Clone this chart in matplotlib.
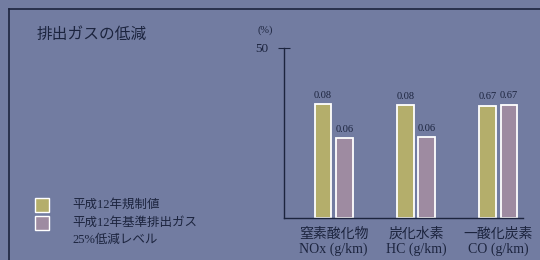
import matplotlib
matplotlib.use("Agg")
import matplotlib.pyplot as plt
import matplotlib.patches as patches
import numpy as np

plt.rcParams['font.family'] = ['Liberation Serif', 'Noto Sans CJK JP', 'DejaVu Sans']

categories = ["窒素酸化物\nNOx (g/km)", "炭化水素\nHC (g/km)", "一酸化炭素\nCO (g/km)"]
regulation_pct = [33.4, 33.0, 32.9]
reduced_pct = [23.4, 23.6, 33.2]
regulation_labels = ["0.08", "0.08", "0.67"]
reduced_labels = ["0.06", "0.06", "0.67"]
series_names = ["平成12年規制値", "平成12年基準排出ガス\n25%低減レベル"]

bg = "#727ca1"
ink = "#1c243e"
c_reg = "#b4ae6b"
c_red = "#9e8ba1"

fig = plt.figure(figsize=(5.4, 2.6), dpi=100, facecolor=bg)

# outer frame (top and left rules)
fig.add_artist(plt.Line2D([9 / 540, 1], [1 - 9 / 260] * 2, color=ink, lw=1.2))
fig.add_artist(plt.Line2D([9 / 540] * 2, [0, 1 - 9 / 260], color=ink, lw=1.2))

fig.text(37 / 540, 1 - 35 / 260, "排出ガスの低減", fontsize=11.3, color=ink, va="center")

ax = fig.add_axes([284 / 540, 1 - 217.7 / 260, 239 / 540, 170 / 260])
ax.set_facecolor("none")

x = np.arange(len(categories))
w = 0.2
off = 0.13
b1 = ax.bar(x - off, regulation_pct, w, color=c_reg, edgecolor="white", lw=1.3)
b2 = ax.bar(x + off, reduced_pct, w, color=c_red, edgecolor="white", lw=1.3)
for bars, labs in ((b1, regulation_labels), (b2, reduced_labels)):
    for r, lab in zip(bars, labs):
        ax.text(r.get_x() + r.get_width() / 2, r.get_height() + 1.3, lab,
                ha="center", va="bottom", fontsize=7.5, color=ink)

ax.set_xlim(-0.604, 2.3)
ax.set_ylim(0, 50)
for s in ("top", "right"):
    ax.spines[s].set_visible(False)
ax.spines["left"].set_color(ink)
ax.spines["bottom"].set_color(ink)
ax.spines["left"].set_linewidth(1.0)
ax.spines["bottom"].set_linewidth(1.0)
ax.set_yticks([50])
ax.set_yticklabels(["50"], fontsize=9.5, color=ink)
ax.tick_params(axis="y", direction="inout", length=8, color=ink, pad=7)
ax.set_xticks(x)
ax.set_xticklabels(categories, fontsize=10, color=ink, linespacing=1.2)
ax.tick_params(axis="x", length=0, pad=7)
ax.text(257 / 540, 1 - 30 / 260, "(%)", transform=fig.transFigure, ha="left",
        va="center", fontsize=7.5, color=ink)

# legend
for i, (col, name) in enumerate(zip([c_reg, c_red], series_names)):
    y0 = 1 - (212 + i * 18) / 260
    fig.add_artist(patches.Rectangle((35 / 540, y0), 14 / 540, 14 / 260,
                                     facecolor=col, edgecolor="white", lw=1.0,
                                     transform=fig.transFigure))
    fig.text(72 / 540, 1 - (205 + i * 26.5) / 260, name, fontsize=9, color=ink,
             va="center", linespacing=1.5)

fig.savefig("out.png", dpi=100, facecolor=bg)
